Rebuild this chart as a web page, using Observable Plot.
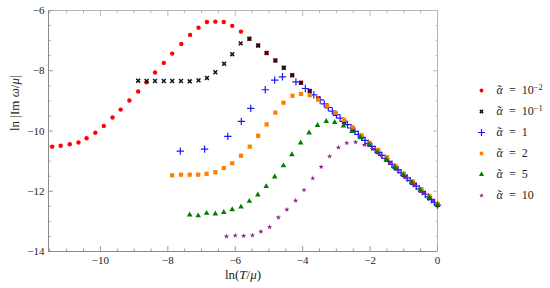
<!DOCTYPE html>
<html><head><meta charset="utf-8">
<script src="https://cdn.jsdelivr.net/npm/d3@7"></script>
<script src="https://cdn.jsdelivr.net/npm/@observablehq/plot@0.6"></script>
<style>
html,body{margin:0;padding:0;background:#fff;}
#wrap{position:relative;width:550px;height:288px;overflow:hidden;}
#chart{position:absolute;left:0;top:0;}
#legend{position:absolute;left:460px;top:60px;}
</style></head><body>
<div id="wrap"><div id="chart"></div><div id="legend"></div></div>
<script>
// ---- data ----
const seriesKeys = ["a0.01", "a0.1", "a1", "a2", "a5", "a10"];
const legendBase = ["10", "10", "1", "2", "5", "10"];
const legendExp = ["−2", "−1", "", "", "", ""];

const redX = [-11.43,-11.18,-10.91,-10.65,-10.41,-10.15,-9.90,-9.64,-9.40,-9.14,-8.88,-8.63,-8.38,-8.12,-7.87,-7.60,-7.34,-7.09,-6.84,-6.59,-6.34,-6.09,-5.83,-5.58,-5.32,-5.07,-4.81,-4.56,-4.31,-4.05,-3.79,-3.54,-3.28,-3.03,-2.77,-2.52,-2.26,-2.02,-1.76,-1.50,-1.25,-1.00,-0.74,-0.48,-0.24,0];
const redY = [-10.52,-10.49,-10.44,-10.38,-10.24,-10.06,-9.83,-9.55,-9.29,-8.99,-8.69,-8.38,-8.06,-7.74,-7.43,-7.11,-6.81,-6.57,-6.38,-6.37,-6.38,-6.51,-6.70,-6.94,-7.16,-7.41,-7.66,-7.90,-8.15,-8.40,-8.67,-8.92,-9.18,-9.43,-9.69,-9.94,-10.20,-10.44,-10.70,-10.96,-11.21,-11.46,-11.72,-11.98,-12.22,-12.46];

const blackX = [-8.88,-8.63,-8.38,-8.12,-7.87,-7.61,-7.35,-7.09,-6.84,-6.59,-6.33,-6.09,-5.84,-5.58,-5.32,-5.07,-4.81,-4.56,-4.31,-4.05,-3.79,-3.54,-3.28,-3.03,-2.77,-2.52,-2.26,-2.02,-1.76,-1.50,-1.25,-1.00,-0.74,-0.48,-0.24,0];
const blackY = [-8.33,-8.34,-8.34,-8.34,-8.34,-8.34,-8.35,-8.32,-8.24,-8.05,-7.77,-7.45,-7.09,-6.94,-7.16,-7.41,-7.66,-7.90,-8.15,-8.40,-8.67,-8.92,-9.18,-9.43,-9.69,-9.94,-10.20,-10.44,-10.70,-10.96,-11.21,-11.46,-11.72,-11.98,-12.22,-12.46];

const blueX = [-7.63,-6.91,-6.22,-5.82,-5.54,-5.11,-4.83,-4.60,-4.20,-3.92,-3.67,-3.48,-3.36,-3.24,-3.12,-3.00,-2.89,-2.78,-2.67,-2.56,-2.45,-2.35,-2.25,-2.15,-2.05,-1.95,-1.85,-1.75,-1.65,-1.55,-1.45,-1.35,-1.26,-1.17,-1.08,-0.99,-0.90,-0.81,-0.72,-0.63,-0.54,-0.45,-0.36,-0.27,-0.18,-0.09,0];
const blueY = [-10.67,-10.60,-10.18,-9.68,-9.25,-8.63,-8.31,-8.20,-8.37,-8.59,-8.80,-8.97,-9.10,-9.22,-9.34,-9.46,-9.57,-9.68,-9.79,-9.90,-10.01,-10.11,-10.21,-10.31,-10.41,-10.51,-10.61,-10.71,-10.81,-10.91,-11.01,-11.11,-11.20,-11.29,-11.38,-11.47,-11.56,-11.65,-11.74,-11.83,-11.92,-12.01,-12.10,-12.19,-12.28,-12.37,-12.46];

const orangeX = [-7.87,-7.61,-7.35,-7.10,-6.85,-6.59,-6.34,-6.09,-5.83,-5.57,-5.32,-5.07,-4.81,-4.57,-4.30,-4.05,-3.79,-3.54,-3.28,-3.03,-2.77,-2.52,-2.26,-2.02,-1.76,-1.50,-1.25,-1.00,-0.74,-0.48,-0.24,0];
const orangeY = [-11.47,-11.45,-11.45,-11.45,-11.42,-11.37,-11.23,-11.07,-10.82,-10.52,-10.16,-9.78,-9.39,-9.06,-8.83,-8.77,-8.81,-8.96,-9.16,-9.39,-9.63,-9.88,-10.14,-10.39,-10.63,-10.87,-11.17,-11.42,-11.68,-11.93,-12.17,-12.42];

const greenX = [-7.35,-7.10,-6.85,-6.59,-6.34,-6.09,-5.83,-5.58,-5.33,-5.08,-4.83,-4.57,-4.32,-4.06,-3.81,-3.56,-3.30,-3.05,-2.79,-2.54,-2.29,-2.03,-1.78,-1.52,-1.27,-1.02,-0.76,-0.51,-0.25,0];
const greenY = [-12.78,-12.81,-12.73,-12.75,-12.70,-12.61,-12.52,-12.33,-12.12,-11.84,-11.52,-11.15,-10.78,-10.39,-10.06,-9.81,-9.68,-9.71,-9.83,-10.01,-10.21,-10.45,-10.70,-10.95,-11.20,-11.45,-11.70,-11.95,-12.20,-12.44];

const purpleX = [-6.26,-6.00,-5.75,-5.49,-5.24,-4.98,-4.72,-4.47,-4.21,-3.96,-3.70,-3.45,-3.20,-2.94,-2.69,-2.43,-2.17,-1.93,-1.67,-1.42,-1.17,-0.91,-0.66,-0.40,-0.15];
const purpleY = [-13.50,-13.47,-13.48,-13.46,-13.34,-13.19,-12.87,-12.61,-12.31,-11.96,-11.57,-11.19,-10.84,-10.55,-10.40,-10.37,-10.46,-10.60,-10.81,-11.06,-11.29,-11.55,-11.80,-12.06,-12.31];

const xTicks = [-10, -8, -6, -4, -2, 0];
const yTicks = [-14, -12, -10, -8, -6];
const xMinorTicks = [-11.5,-11,-10.5,-9.5,-9,-8.5,-7.5,-7,-6.5,-5.5,-5,-4.5,-3.5,-3,-2.5,-1.5,-1,-0.5];
const yMinorTicks = [-13.5,-13,-12.5,-11.5,-11,-10.5,-9.5,-9,-8.5,-7.5,-7,-6.5];
const xTitle = "ln(T/μ)";
const yTitle = "ln |Im ω/μ|";

// ---- styles ----
const seriesData = {
  "a0.01": [redX, redY], "a0.1": [blackX, blackY], "a1": [blueX, blueY],
  "a2": [orangeX, orangeY], "a5": [greenX, greenY], "a10": [purpleX, purpleY]
};
const styles = {
  "a0.01": {symbol: "circle", fill: "#ff0000", r: 2.2},
  "a0.1": {symbol: "times", stroke: "#111", fill: "none", r: 1.9, strokeWidth: 1.5},
  "a1": {symbol: "plus", stroke: "#1a1aff", fill: "none", r: 2.5, strokeWidth: 1.2},
  "a2": {symbol: "square", fill: "#ff8000", r: 2.4},
  "a5": {symbol: "triangle", fill: "#008000", r: 2.1},
  "a10": {symbol: "star", fill: "#8a1f8a", r: 1.65}
};
const legendStyles = {
  "a0.01": {r: 1.9}, "a0.1": {r: 1.6}, "a1": {r: 2.4}, "a2": {r: 2.0}, "a5": {r: 1.9}, "a10": {r: 1.5}
};
const rows = k => seriesData[k][0].map((x, i) => ({x, y: seriesData[k][1][i]}));

const axisGray = "#9a9a9a";
const chart = Plot.plot({
  width: 550, height: 288,
  marginLeft: 48, marginRight: 113, marginTop: 10, marginBottom: 37,
  style: {fontFamily: "'Liberation Serif', 'DejaVu Serif', serif", fontSize: "11px", color: "#222", background: "#fff"},
  x: {domain: [-11.54, 0], label: null},
  y: {domain: [-14, -6], label: null},
  marks: [
    Plot.frame({stroke: "#b5b5b5"}),
    Plot.axisX({ticks: xTicks, anchor: "bottom", tickSize: -5, text: null, stroke: axisGray, label: null}),
    Plot.axisX({ticks: xMinorTicks, anchor: "bottom", tickSize: -2.5, text: null, stroke: axisGray, label: null}),
    Plot.axisX({ticks: xTicks, anchor: "top", tickSize: -5, text: null, stroke: "#bbb", label: null}),
    Plot.axisX({ticks: xMinorTicks, anchor: "top", tickSize: -2.5, text: null, stroke: "#bbb", label: null}),
    Plot.axisX({ticks: xTicks, anchor: "bottom", tickSize: 0, tickPadding: 5, label: null, fill: "#222"}),
    Plot.axisY({ticks: yTicks, anchor: "left", tickSize: -5, text: null, stroke: axisGray, label: null}),
    Plot.axisY({ticks: yMinorTicks, anchor: "left", tickSize: -2.5, text: null, stroke: axisGray, label: null}),
    Plot.axisY({ticks: yTicks, anchor: "right", tickSize: -5, text: null, stroke: "#bbb", label: null}),
    Plot.axisY({ticks: yMinorTicks, anchor: "right", tickSize: -2.5, text: null, stroke: "#bbb", label: null}),
    Plot.axisY({ticks: yTicks, anchor: "left", tickSize: 0, tickPadding: 4, label: null, fill: "#222"}),
    Plot.ruleX([-11.54], {stroke: "#8c8c8c"}),
    Plot.ruleY([-14], {stroke: "#8c8c8c"}),
    ...seriesKeys.map(k => Plot.dot(rows(k), {x: "x", y: "y", ...styles[k]})),
    Plot.text([xTitle], {text: d => d, frameAnchor: "bottom", dy: 27, fontSize: 13, fill: "#222"}),
    Plot.text([yTitle], {text: d => d, frameAnchor: "left", dx: -34, rotate: -90, fontSize: 13, fill: "#222"})
  ]
});
document.getElementById("chart").appendChild(chart);

chart.querySelectorAll("text").forEach(t => {
  if (t.textContent === xTitle) t.innerHTML = 'ln(<tspan font-style="italic">T</tspan>/<tspan font-style="italic">μ</tspan>)';
  else if (t.textContent === yTitle) t.innerHTML = 'ln |Im <tspan font-style="italic">ω</tspan>/<tspan font-style="italic">μ</tspan>|';
});

// ---- legend ----
const legendText = seriesKeys.map((k, i) => "α˜ = " + legendBase[i] + legendExp[i]);
const legend = Plot.plot({
  width: 90, height: 170, margin: 0,
  style: {fontFamily: "'Liberation Serif', 'DejaVu Serif', serif", fontSize: "12px", color: "#222", background: "transparent"},
  x: {domain: [0, 1], axis: null},
  y: {type: "point", domain: seriesKeys, range: [16.7, 147.7], axis: null},
  marks: [
    ...seriesKeys.map(k => Plot.dot([k], {y: d => d, frameAnchor: "left", dx: 21, ...styles[k], ...legendStyles[k]})),
    Plot.text(seriesKeys, {y: d => d, text: (d, i) => legendText[i], frameAnchor: "left", dx: 36, textAnchor: "start", fill: "#222", fontSize: 12})
  ]
});
document.getElementById("legend").appendChild(legend);
legend.querySelectorAll("text").forEach(t => {
  const i = legendText.indexOf(t.textContent);
  if (i < 0) return;
  t.innerHTML = '<tspan font-style="italic">α</tspan><tspan dx="-5.2" dy="-0.5">˜</tspan>' +
    '<tspan dx="1.4" dy="0.5">\u2002=\u2002' + legendBase[i] + '</tspan>' +
    (legendExp[i] ? '<tspan dy="-4.5" font-size="8.5">' + legendExp[i] + '</tspan>' : '');
});
</script>
</body></html>
